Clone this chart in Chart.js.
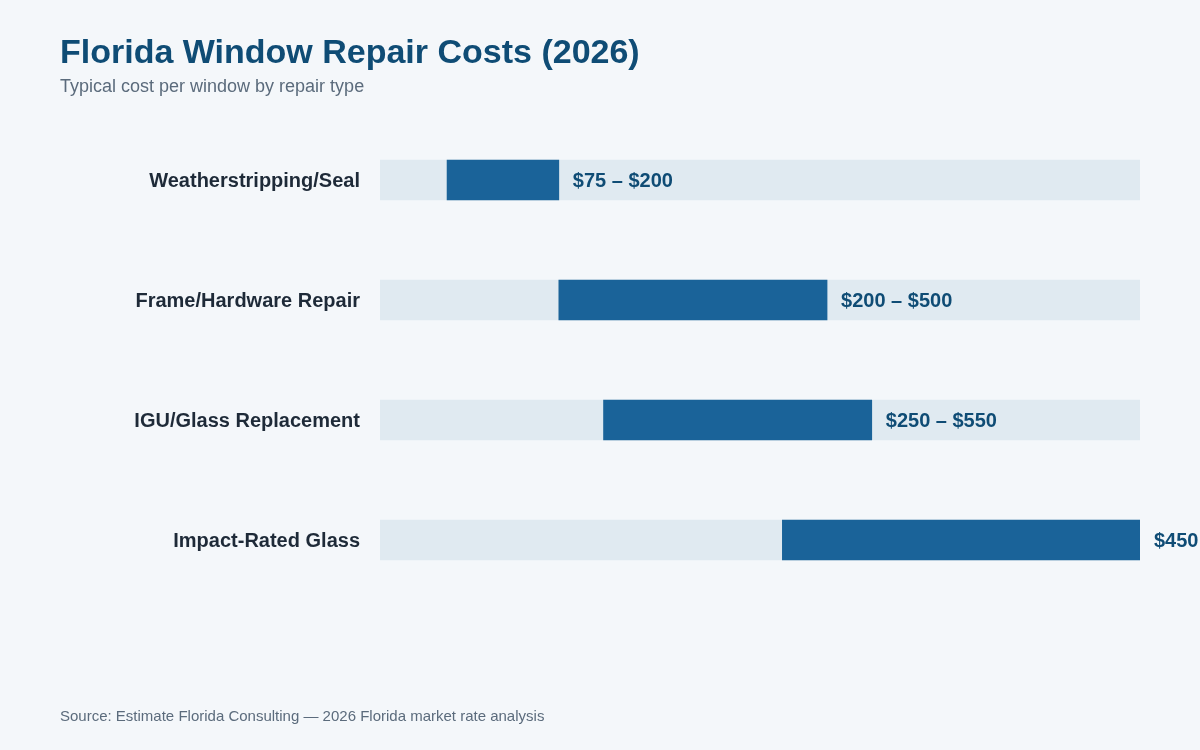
<!DOCTYPE html>
<html>
<head>
<meta charset="utf-8">
<script src="https://cdn.jsdelivr.net/npm/chart.js@4"></script>
<style>
  html, body { margin: 0; padding: 0; background: #f4f7fa; }
  body { width: 1200px; height: 750px; position: relative; overflow: hidden; font-family: "Liberation Sans", Arial, sans-serif; }
  #chart { position: absolute; left: 0; top: 0; }
  .txt { position: absolute; left: 60px; line-height: 1; white-space: nowrap; }
  #title { top: 34px; font-size: 34px; font-weight: bold; color: #0f4c75; }
  #subtitle { top: 77px; font-size: 18px; color: #5b6b7c; }
  #source { top: 708px; font-size: 15px; color: #5b6b7c; }
</style>
</head>
<body>
<canvas id="chart" width="1200" height="750"></canvas>
<div class="txt" id="title">Florida Window Repair Costs (2026)</div>
<div class="txt" id="subtitle">Typical cost per window by repair type</div>
<div class="txt" id="source">Source: Estimate Florida Consulting — 2026 Florida market rate analysis</div>
<script>
// repair types and cost ranges (USD per window)
const repairTypes = ['Weatherstripping/Seal', 'Frame/Hardware Repair', 'IGU/Glass Replacement', 'Impact-Rated Glass'];
const lowCost = [75, 200, 250, 450];
const highCost = [200, 500, 550, 850];
const axisMax = 850;

const rangeData = repairTypes.map((_, i) => [lowCost[i], highCost[i]]);
const trackData = repairTypes.map(() => [0, axisMax]);

// value labels to the right of each bar
const rangeLabels = {
    id: 'rangeLabels',
    afterDatasetsDraw(chart) {
        const ctx = chart.ctx;
        const meta = chart.getDatasetMeta(0);
        ctx.save();
        ctx.font = 'bold 20px "Liberation Sans", Arial, sans-serif';
        ctx.fillStyle = '#0f4c75';
        ctx.textAlign = 'left';
        ctx.textBaseline = 'middle';
        meta.data.forEach((bar, i) => {
            ctx.fillText('$' + lowCost[i] + ' \u2013 $' + highCost[i], bar.x + 14, bar.y + 1);
        });
        ctx.restore();
    }
};

new Chart(document.getElementById('chart'), {
    type: 'bar',
    data: {
        labels: repairTypes,
        datasets: [
            {
                label: 'Cost range',
                data: rangeData,
                backgroundColor: '#1a6399',
                barThickness: 40,
                grouped: false
            },
            {
                label: 'Scale',
                data: trackData,
                backgroundColor: '#e0eaf1',
                barThickness: 40,
                grouped: false
            }
        ]
    },
    options: {
        indexAxis: 'y',
        responsive: false,
        animation: false,
        layout: { padding: { top: 120, bottom: 150, left: 0, right: 60 } },
        plugins: {
            legend: { display: false },
            tooltip: { enabled: false }
        },
        scales: {
            x: {
                display: false,
                min: 0,
                max: axisMax
            },
            y: {
                grid: { display: false, drawTicks: false },
                border: { display: false },
                afterFit(scale) { scale.width = 380; },
                ticks: {
                    padding: 20,
                    labelOffset: 1,
                    color: '#1e2a38',
                    font: { family: '"Liberation Sans", Arial, sans-serif', size: 20, weight: 'bold' }
                }
            }
        }
    },
    plugins: [rangeLabels]
});
</script>
</body>
</html>
